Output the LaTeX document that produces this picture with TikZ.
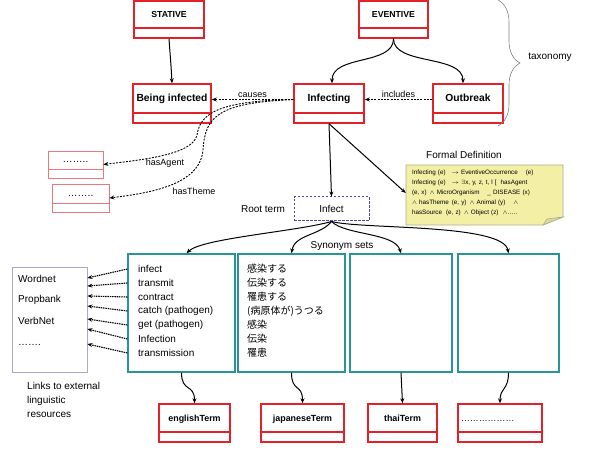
\documentclass[tikz,border=0pt]{standalone}
\usepackage{fontspec}
\setmainfont{Liberation Sans}
\newfontfamily\jpfont{Noto Sans CJK JP}
\usetikzlibrary{arrows.meta,calc,decorations.pathreplacing}
\definecolor{clsred}{RGB}{228,32,40}
\definecolor{stubred}{RGB}{235,120,125}
\definecolor{synteal}{RGB}{40,150,150}
\definecolor{rootblue}{RGB}{80,70,160}
\definecolor{resgray}{RGB}{170,170,200}
\definecolor{notefill}{RGB}{243,240,165}
\definecolor{noteline}{RGB}{170,170,140}
\newcommand{\cls}[1]{\raisebox{1.5pt}[0pt][0pt]{#1}}
\newcommand{\fsz}[1]{\fontsize{#1}{#1}\selectfont}

\begin{document}
\begin{tikzpicture}[x=1pt, y=-1pt, >={Stealth[length=5pt,width=4pt]},
    classbox/.style={draw=clsred, line width=1.4pt, inner sep=0pt, font=\bfseries\fsz{10.3},
      path picture={\draw[clsred, line width=1.4pt] ([yshift=10pt]path picture bounding box.south west) -- ([yshift=10pt]path picture bounding box.south east);}},
    stubbox/.style={classbox, draw=stubred, line width=0.7pt, font=\fsz{10},
      path picture={\draw[stubred, line width=0.7pt] ([yshift=9pt]path picture bounding box.south west) -- ([yshift=9pt]path picture bounding box.south east);}},
    synbox/.style={draw=synteal, line width=1.3pt, inner sep=0pt, minimum height=118},
    rootbox/.style={draw=rootblue, line width=1pt, dash pattern=on 2.5pt off 1.5pt, inner sep=0pt, font=\fsz{10}},
    item/.style={anchor=west, inner sep=0pt, font=\fsz{10}},
    lbl/.style={inner sep=1pt, font=\fsz{10}},
    conn/.style={line width=1pt},
    rel/.style={->, line width=0.9pt, dash pattern=on 2pt off 1.3pt},
    link/.style={->, line width=1.1pt, dash pattern=on 1.5pt off 0.8pt}]
  \useasboundingbox (0,0) rectangle (600,465);

  % taxonomy part
  \node[classbox, minimum width=70, minimum height=37, font=\bfseries\fsz{8.7}] (stative) at (169,19.5) {\cls{STATIVE}};
  \node[classbox, minimum width=69, minimum height=37, font=\bfseries\fsz{8.7}] (eventive) at (393.5,19.5) {\cls{EVENTIVE}};
  \node[classbox, minimum width=78, minimum height=39] (being) at (172,103.5) {\cls{Being infected}};
  \node[classbox, minimum width=70, minimum height=39] (infecting) at (329,103.5) {\cls{Infecting}};
  \node[classbox, minimum width=70, minimum height=39] (outbreak) at (468,103.5) {\cls{Outbreak}};
  \node[stubbox, minimum width=55, minimum height=27] (agent) at (75.5,164.5) {\cls{……..}};
  \node[stubbox, minimum width=57, minimum height=28] (theme) at (80.5,198) {\cls{……..}};

  \draw[->, conn] (stative.south) .. controls +(1,15) and +(-1,-20) .. (being.north);
  \draw[->, conn] (eventive.south) .. controls +(0,27) and +(0,-29) .. ([xshift=3pt]infecting.north);
  \draw[->, conn] (eventive.south) .. controls +(0,27) and +(0,-29) .. ([xshift=-5pt]outbreak.north);
  \draw[rel] ([yshift=4pt]outbreak.west) -- node[lbl, above, font=\fsz{9}] (includes) {includes} ([yshift=4pt]infecting.east);
  \draw[rel] ([yshift=4pt]infecting.west) -- node[lbl, above, font=\fsz{9}] (causes) {causes} ([yshift=4pt]being.east);
  \draw[rel] ([yshift=4pt]infecting.west) .. controls (215,101) and (200,115) .. (197,135)
    .. controls (193,155) and (140,160) .. (agent.east);
  \draw[rel] ([yshift=4pt]infecting.west) .. controls (220,103) and (205,115) .. (203,150)
    .. controls (200,185) and (150,193) .. (theme.east);
  \node[lbl, font=\fsz{9}] (hasagent) at (165,163) {hasAgent};
  \node[lbl, font=\fsz{9}] (hastheme) at (194,191) {hasTheme};

  \draw[gray, line width=0.6pt, decorate, decoration={brace, amplitude=22pt}] (498,0) -- (498,126);
  \node[lbl] (taxonomy) at (550,57) {taxonomy};

  % formal definition
  \filldraw[fill=notefill, draw=noteline, line width=0.6pt] (406,165) -- (563,165) -- (563,217) -- (543,225) -- (406,225) -- cycle;
  \filldraw[fill=notefill!80!gray, draw=noteline, line width=0.6pt] (543,225) -- (547,219) -- (563,217) -- cycle;
  \node[inner sep=0pt, minimum width=157, minimum height=60, text width=145, align=left, font=\fontsize{6.3}{8.2}\selectfont] (fdef) at (484.5,193)
    {Infecting (e)\hspace{6pt}$\rightarrow$ EventiveOccurrence\hspace{8pt}(e)\\[1.8pt]
     Infecting (e)\hspace{6pt}$\rightarrow$ $\exists$x, y, z, t, l [\hspace{4pt}hasAgent\\[1.8pt]
     (e, x)\hspace{3pt}$\wedge$ MicroOrganism\hspace{8pt}\_ DISEASE (x)\\[1.8pt]
     $\wedge$ hasTheme\hspace{3pt}(e, y)\hspace{3pt}$\wedge$ Animal (y)\hspace{8pt}$\wedge$\\[1.8pt]
     hasSource\hspace{4pt}(e, z)\hspace{3pt}$\wedge$ Object (z)\hspace{4pt}$\wedge$…..};
  \node[lbl] (fdeftitle) at (464,155) {Formal Definition};

  % root term and synonym sets
  \node[rootbox, minimum width=75, minimum height=24] (infect) at (331.5,209) {Infect};
  \node[lbl] (rootterm) at (263,209) {Root term};
  \draw[->, conn] (infecting.south) -- (infect.north);
  \draw[->, conn] (infecting.south) -- (fdef.west);

  \node[synbox, minimum width=107] (synA) at (181.5,313) {};
  \node[synbox, minimum width=107] (synB) at (291.5,313) {};
  \node[synbox, minimum width=102] (synC) at (401,313) {};
  \node[synbox, minimum width=101] (synD) at (508.5,313) {};
  \node[lbl] (synsets) at (342,246) {Synonym sets};

  \draw[->, conn] (infect.south) .. controls +(-35,10) and +(15,-15) .. ([xshift=5pt]synA.north);
  \draw[->, conn] (infect.south) .. controls +(-11,14) and +(3,-19) .. (synB.north);
  \draw[->, conn] (infect.south) .. controls +(14,14) and +(-6,-21) .. (synC.north);
  \draw[->, conn] (infect.south) .. controls +(30,8) and +(-5,-30) .. (synD.north);

  \foreach \w [count=\i] in {infect, transmit, contract, catch (pathogen), get (pathogen), Infection, transmission}
    \node[item] (e\i) at (138,255+14*\i) {\w};
  \foreach \w [count=\i] in {感染する, 伝染する, 罹患する, {(病原体が)うつる}, 感染, 伝染, 罹患}
    \node[item, font=\jpfont\fsz{10}] (j\i) at (247,255+14*\i) {\w};

  % external resources
  \node[draw=resgray, line width=0.8pt, minimum width=75, minimum height=105, inner sep=0pt] (res) at (49.5,319.5) {};
  \node[item] (wordnet) at (18,279) {Wordnet};
  \node[item] (propbank) at (18,300) {Propbank};
  \node[item] (verbnet) at (18,321) {VerbNet};
  \node[item] (moreres) at (18,345) {…….};
  \foreach \ye [count=\i] in {278,286,296,306,319,329,344} {
    \coordinate (r\i) at (res.east |- 0,\ye);
    \draw[link] (synA.west |- e\i) -- (r\i);
  }
  \node[lbl, anchor=north west, align=left, font=\fontsize{10}{14}\selectfont] (links) at (26,381) {Links to external\\linguistic\\resources};

  % language terms
  \node[classbox, minimum width=71, minimum height=38, font=\bfseries\fsz{8.9}] (eng) at (194.5,423) {\cls{englishTerm}};
  \node[classbox, minimum width=83, minimum height=38, font=\bfseries\fsz{8.9}] (jap) at (302.5,423) {\cls{japaneseTerm}};
  \node[classbox, minimum width=69, minimum height=38, font=\bfseries\fsz{8.9}] (thai) at (402.5,423) {\cls{thaiTerm}};
  \node[classbox, minimum width=84, minimum height=38, font=\fsz{8.9}] (moreterm) at (500,423) {\cls{\makebox[78pt][l]{………………}}};

  \draw[->, conn] (synA.south) .. controls +(0,20) and +(0,-20) .. (eng.north);
  \draw[->, conn] (synB.south) .. controls +(0,20) and +(0,-20) .. (jap.north);
  \draw[->, conn] (synC.south) -- (thai.north);
  \draw[->, conn] (synD.south) .. controls +(0,18) and +(0,-16) .. (moreterm.north);
\end{tikzpicture}
\end{document}
